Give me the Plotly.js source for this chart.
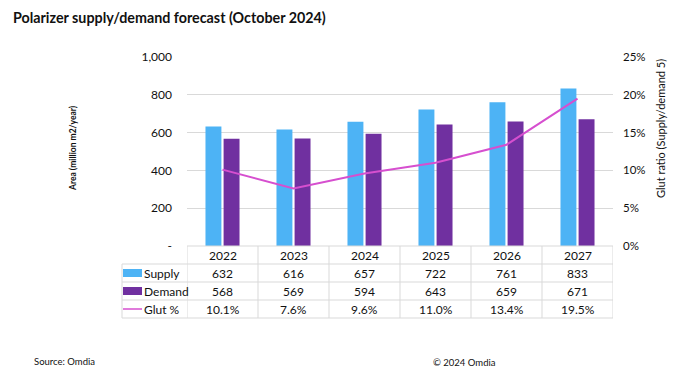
<!DOCTYPE html>
<html><head><meta charset="utf-8">
<script src="https://cdn.plot.ly/plotly-3.0.1.min.js"></script>
<style>html,body{margin:0;padding:0;background:#fff}#chart{width:691px;height:378px}</style>
</head><body><div id="chart"></div>
<script>
const years = ['2022','2023','2024','2025','2026','2027'];
const supply = [632, 616, 657, 722, 761, 833];
const demand = [568, 569, 594, 643, 659, 671];
const glut = [10.1, 7.6, 9.6, 11.0, 13.4, 19.5];
const leftTicks = [0, 200, 400, 600, 800, 1000];
const leftTickText = ['-', '200', '400', '600', '800', '1,000'];
const rightTicks = [0, 5, 10, 15, 20, 25];
const rowNames = ['Supply', 'Demand', 'Glut %'];

const FONT = 'Lato, "Open Sans", sans-serif';
const C_SUP = '#4DB3F5', C_DEM = '#7030A0', C_GLUT = '#D64FCF', GRID = '#D9D9D9';

const W = 691, H = 378;
const L = 187, R = 613, T = 57, B = 246;
const px = x => (x - L) / (R - L);
const py = y => (B - y) / (B - T);

const traces = [
  {type:'bar', name:'Supply', x:years, y:supply, marker:{color:C_SUP}, hoverinfo:'skip'},
  {type:'bar', name:'Demand', x:years, y:demand, marker:{color:C_DEM}, hoverinfo:'skip'},
  {type:'scatter', mode:'lines', name:'Glut %', x:years, y:glut, yaxis:'y2', line:{color:C_GLUT, width:2}, hoverinfo:'skip'}
];

const shapes = [];
const annotations = [];
const rowY = [264, 282, 300, 318];
shapes.push({type:'line', xref:'paper', yref:'paper', x0:0, x1:1, y0:0, y1:0, line:{color:GRID, width:1}});
rowY.forEach(y => shapes.push({type:'line', xref:'paper', yref:'paper', x0:px(122), x1:1, y0:py(y), y1:py(y), line:{color:GRID, width:1}}));
for (let i = 0; i <= years.length; i++) {
  shapes.push({type:'line', xref:'x', yref:'paper', x0:i-0.5, x1:i-0.5, y0:0, y1:py(318), line:{color:GRID, width:1}});
}
shapes.push({type:'line', xref:'paper', yref:'paper', x0:px(122), x1:px(122), y0:py(264), y1:py(318), line:{color:GRID, width:1}});
shapes.push({type:'rect', xref:'paper', yref:'paper', x0:px(123), x1:px(142), y0:py(269), y1:py(277), fillcolor:C_SUP, line:{width:0}});
shapes.push({type:'rect', xref:'paper', yref:'paper', x0:px(123), x1:px(142), y0:py(287), y1:py(295), fillcolor:C_DEM, line:{width:0}});
shapes.push({type:'line', xref:'paper', yref:'paper', x0:px(123), x1:px(142), y0:py(309), y1:py(309), line:{color:C_GLUT, width:1.5}});

const tf = {family:FONT, size:12, color:'#111'};
years.forEach((yr, i) => {
  annotations.push({xref:'x', yref:'paper', x:i, y:py(255), text:yr, showarrow:false, font:tf, xanchor:'center', yanchor:'middle'});
  annotations.push({xref:'x', yref:'paper', x:i, y:py(273), text:String(supply[i]), showarrow:false, font:tf, xanchor:'center', yanchor:'middle'});
  annotations.push({xref:'x', yref:'paper', x:i, y:py(291), text:String(demand[i]), showarrow:false, font:tf, xanchor:'center', yanchor:'middle'});
  annotations.push({xref:'x', yref:'paper', x:i, y:py(309), text:glut[i].toFixed(1) + '%', showarrow:false, font:tf, xanchor:'center', yanchor:'middle'});
});
[273, 291, 309].forEach((y, k) => {
  annotations.push({xref:'paper', yref:'paper', x:px(142), y:py(y), text:rowNames[k], showarrow:false, font:tf, xanchor:'left', yanchor:'middle'});
});
annotations.push({xref:'paper', yref:'paper', x:px(11), y:py(17), text:'<b>Polarizer supply/demand forecast (October 2024)</b>', showarrow:false, font:{family:FONT, size:14.3, color:'#111'}, xanchor:'left', yanchor:'middle'});
annotations.push({xref:'paper', yref:'paper', x:px(73), y:py(148), text:'<b>Area (million m2/year)</b>', textangle:-90, showarrow:false, font:{family:FONT, size:8.5, color:'#111'}, xanchor:'center', yanchor:'middle'});
annotations.push({xref:'paper', yref:'paper', x:px(660), y:py(129), text:'Glut ratio (Supply/demand 5)', textangle:-90, showarrow:false, font:{family:FONT, size:11, color:'#111'}, xanchor:'center', yanchor:'middle'});
annotations.push({xref:'paper', yref:'paper', x:px(32), y:py(361), text:'Source: Omdia', showarrow:false, font:{family:FONT, size:9.5, color:'#111'}, xanchor:'left', yanchor:'middle'});
annotations.push({xref:'paper', yref:'paper', x:px(498), y:py(362), text:'© 2024 Omdia', showarrow:false, font:{family:FONT, size:9.5, color:'#111'}, xanchor:'right', yanchor:'middle'});

const layout = {
  width:W, height:H,
  margin:{l:L, r:W-R, t:T, b:H-B, pad:0},
  paper_bgcolor:'#fff', plot_bgcolor:'#fff',
  showlegend:false,
  barmode:'group', bargap:0.49, bargroupgap:0.12,
  font:{family:FONT, size:12, color:'#111'},
  xaxis:{type:'category', range:[-0.5, 5.5], showticklabels:false, showgrid:false, zeroline:false, showline:false, ticks:''},
  yaxis:{range:[0,1000], tickvals:leftTicks, ticktext:leftTickText, showgrid:true, gridcolor:GRID, gridwidth:1, zeroline:false, showline:false, ticks:'', ticklabelstandoff:14, tickfont:{family:FONT, size:12, color:'#111'}},
  yaxis2:{overlaying:'y', side:'right', range:[0,25], tickvals:rightTicks, ticktext:rightTicks.map(v => v + '%'), showgrid:false, zeroline:false, showline:false, ticks:'', ticklabelstandoff:9, tickfont:{family:FONT, size:11.5, color:'#111'}},
  shapes:shapes, annotations:annotations
};
Plotly.newPlot('chart', traces, layout, {staticPlot:true, displayModeBar:false});
</script></body></html>
